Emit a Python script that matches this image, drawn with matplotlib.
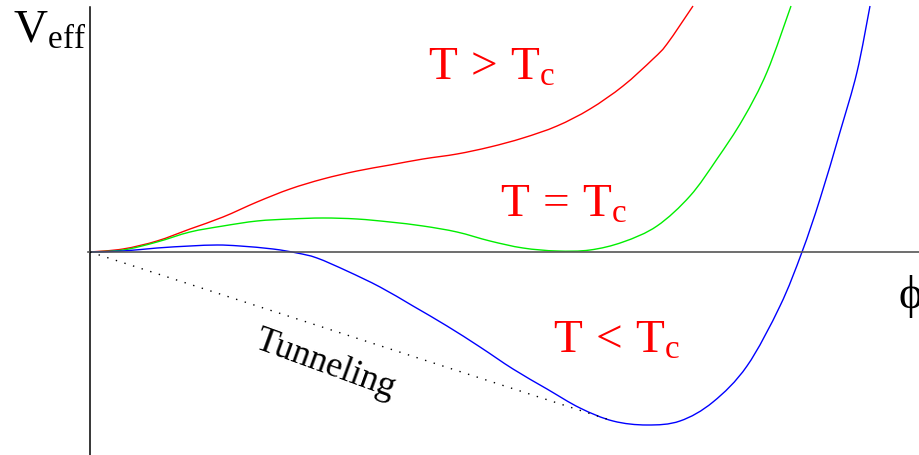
import matplotlib
matplotlib.use('Agg')
import matplotlib.pyplot as plt
from matplotlib.path import Path
from matplotlib.patches import PathPatch

plt.rcParams['font.family'] = ['Liberation Serif', 'DejaVu Serif']
plt.rcParams['mathtext.fontset'] = 'custom'
plt.rcParams['mathtext.rm'] = 'Liberation Serif'
plt.rcParams['mathtext.it'] = 'Liberation Serif'

# effective potential V(phi) at three temperatures
red_phi = [0, .33, .67, 1.00, 1.33, 1.67, 2.00, 2.33, 2.67, 3.00, 3.33, 3.67, 4.00,
           4.33, 4.67, 5.00, 5.33, 5.63, 5.77, 6.03]
red_V = [0, .03, .11, .23, .35, .50, .63, .73, .81, .87, .93, .98, 1.05,
         1.14, 1.26, 1.43, 1.66, 1.93, 2.08, 2.46]

green_phi = [0, .33, .67, 1.00, 1.33, 1.67, 2.00, 2.33, 2.67, 3.00, 3.33, 3.67, 4.00,
             4.33, 4.67, 5.00, 5.33, 5.67, 6.00, 6.27, 6.53, 6.77, 7.01]
green_V = [0, .02, .10, .20, .26, .31, .33, .34, .33, .30, .26, .20, .11,
           .04, .01, .02, .10, .26, .56, .93, 1.33, 1.80, 2.46]

blue_phi = [0, .33, .67, 1.00, 1.27, 1.50, 1.83, 2.07, 2.27, 2.57, 2.90, 3.23, 3.57,
            3.90, 4.23, 4.57, 4.90, 5.23, 5.57, 5.90, 6.23, 6.57, 6.90, 7.12, 7.30,
            7.50, 7.67, 7.80]
blue_V = [0, .01, .04, .06, .07, .06, .03, -.01, -.06, -.19, -.35, -.54, -.74,
          -.95, -1.17, -1.37, -1.56, -1.69, -1.73, -1.69, -1.50, -1.14, -.54, 0, .53,
          1.20, 1.80, 2.46]

# straight tunnelling path from the origin to the broken-phase well
tunnel_phi = [0, 5.23]
tunnel_V = [0, -1.69]


def smooth_path(xs, ys):
    """Cubic Bezier path through the points (Catmull-Rom tangents)."""
    pts = list(zip(xs, ys))
    verts = [pts[0]]
    codes = [Path.MOVETO]
    n = len(pts)
    for i in range(n - 1):
        p0 = pts[i - 1] if i > 0 else pts[i]
        p1 = pts[i]
        p2 = pts[i + 1]
        p3 = pts[i + 2] if i + 2 < n else pts[i + 1]
        c1 = (p1[0] + (p2[0] - p0[0]) / 6, p1[1] + (p2[1] - p0[1]) / 6)
        c2 = (p2[0] - (p3[0] - p1[0]) / 6, p2[1] - (p3[1] - p1[1]) / 6)
        verts += [c1, c2, p2]
        codes += [Path.CURVE4] * 3
    return Path(verts, codes)


fig = plt.figure(figsize=(9.2, 4.56), dpi=100)
ax = fig.add_axes([0, 0, 1, 1])
ax.set_xlim(-0.90, 8.30)
ax.set_ylim(-2.03, 2.53)
ax.axis('off')

# axes through the origin
ax.plot([0, 0], [-2.03, 2.45], color='black', lw=1.1)
ax.plot([-0.02, 8.30], [0, 0], color='#555555', lw=1.2)

for xs, ys, col in [(red_phi, red_V, '#ff0000'),
                    (green_phi, green_V, '#00ee00'),
                    (blue_phi, blue_V, '#0000ff')]:
    ax.add_patch(PathPatch(smooth_path(xs, ys), facecolor='none',
                           edgecolor=col, lw=1.0))
ax.plot(tunnel_phi, tunnel_V, color='black', lw=1.0, linestyle=(0, (1, 5.5)))

ax.text(-0.77, 2.10, r'$\mathrm{V_{eff}}$', fontsize=34, va='baseline', ha='left')
ax.text(8.08, -0.44, r'$\phi$', fontsize=33, va='center', ha='left')

ax.text(3.38, 1.73, r'$\mathrm{T}\,>\,\mathrm{T_c}$', fontsize=34, color='red', va='baseline')
ax.text(4.10, 0.36, r'$\mathrm{T}\,=\,\mathrm{T_c}$', fontsize=34, color='red', va='baseline')
ax.text(4.63, -1.00, r'$\mathrm{T}\,<\,\mathrm{T_c}$', fontsize=34, color='red', va='baseline')

ax.text(2.35, -1.12, 'Tunneling', fontsize=26, rotation=-20,
        rotation_mode='anchor', ha='center', va='center')

fig.savefig('out.png', dpi=100)
